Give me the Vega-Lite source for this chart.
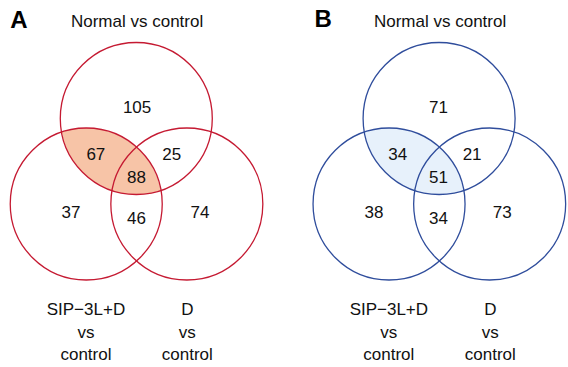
{
  "$schema": "https://vega.github.io/schema/vega-lite/v6.json",
  "width": 568,
  "height": 367,
  "padding": 0,
  "autosize": {"type": "fit", "contains": "padding"},
  "background": "white",
  "config": {"view": {"stroke": null}},
  "datasets": {
    "circles": [
      {"panel": "A", "set": "Normal vs control", "x": 137.5, "y": 118.5},
      {"panel": "A", "set": "SIP-3L+D vs control", "x": 87, "y": 204},
      {"panel": "A", "set": "D vs control", "x": 188.5, "y": 204},
      {"panel": "B", "set": "Normal vs control", "x": 443, "y": 118.5},
      {"panel": "B", "set": "SIP-3L+D vs control", "x": 392.5, "y": 204},
      {"panel": "B", "set": "D vs control", "x": 494, "y": 204}
    ],
    "lenses": [
      {"panel": "A", "x": 112.25, "y": 161.25},
      {"panel": "B", "x": 417.75, "y": 161.25}
    ],
    "counts": [
      {"panel": "A", "n": "105", "x": 138.3, "y": 113.1},
      {"panel": "A", "n": "67", "x": 96.7, "y": 159.8},
      {"panel": "A", "n": "25", "x": 173.3, "y": 159.8},
      {"panel": "A", "n": "88", "x": 137.7, "y": 183.1},
      {"panel": "A", "n": "37", "x": 71.7, "y": 217.5},
      {"panel": "A", "n": "46", "x": 137.7, "y": 224.1},
      {"panel": "A", "n": "74", "x": 201.7, "y": 218.1},
      {"panel": "B", "n": "71", "x": 442.3, "y": 113.1},
      {"panel": "B", "n": "34", "x": 401.3, "y": 159.8},
      {"panel": "B", "n": "21", "x": 476.3, "y": 159.8},
      {"panel": "B", "n": "51", "x": 442.3, "y": 182.8},
      {"panel": "B", "n": "38", "x": 377.3, "y": 217.5},
      {"panel": "B", "n": "34", "x": 442.3, "y": 224.1},
      {"panel": "B", "n": "73", "x": 506.7, "y": 218.1}
    ],
    "labels": [
      {"panel": "A", "label": "Normal vs control", "x": 138.3, "y": 26.7},
      {"panel": "A", "label": "SIP−3L+D\nvs\ncontrol", "x": 86.7, "y": 315},
      {"panel": "A", "label": "D\nvs\ncontrol", "x": 189, "y": 315},
      {"panel": "B", "label": "Normal vs control", "x": 444, "y": 26.7},
      {"panel": "B", "label": "SIP−3L+D\nvs\ncontrol", "x": 392.3, "y": 315},
      {"panel": "B", "label": "D\nvs\ncontrol", "x": 494.7, "y": 315}
    ],
    "letters": [
      {"panel": "A", "x": 19.2, "y": 28.3},
      {"panel": "B", "x": 326, "y": 27}
    ]
  },
  "encoding": {
    "x": {"field": "x", "type": "quantitative", "scale": {"domain": [0, 568], "nice": false, "zero": false}, "axis": null},
    "y": {"field": "y", "type": "quantitative", "scale": {"domain": [0, 367], "nice": false, "zero": false, "reverse": true}, "axis": null}
  },
  "layer": [
    {
      "data": {"name": "lenses"},
      "mark": {
        "type": "point",
        "shape": "M -0.6513 -0.3842 A 1 1 0 0 0 0.6513 0.3842 A 1 1 0 0 0 -0.6513 -0.3842 Z",
        "filled": true,
        "size": 23104,
        "opacity": 1,
        "strokeWidth": 0
      },
      "encoding": {
        "fill": {"field": "panel", "type": "nominal", "scale": {"domain": ["A", "B"], "range": ["#f7c4a7", "#e7f1fb"]}, "legend": null}
      }
    },
    {
      "data": {"name": "circles"},
      "mark": {"type": "point", "shape": "circle", "filled": false, "size": 23104, "strokeWidth": 1.3, "opacity": 1},
      "encoding": {
        "stroke": {"field": "panel", "type": "nominal", "scale": {"domain": ["A", "B"], "range": ["#c51a32", "#2f4d9c"]}, "legend": null}
      }
    },
    {
      "data": {"name": "counts"},
      "mark": {"type": "text", "font": "Liberation Sans", "fontSize": 17, "align": "center", "baseline": "alphabetic", "color": "#111111"},
      "encoding": {"text": {"field": "n"}}
    },
    {
      "data": {"name": "labels"},
      "mark": {"type": "text", "font": "Liberation Sans", "fontSize": 17, "align": "center", "baseline": "alphabetic", "lineBreak": "\n", "lineHeight": 22.5, "color": "#111111"},
      "encoding": {"text": {"field": "label"}}
    },
    {
      "data": {"name": "letters"},
      "mark": {"type": "text", "font": "Liberation Sans", "fontWeight": "bold", "fontSize": 24, "align": "center", "baseline": "alphabetic", "color": "#000000"},
      "encoding": {"text": {"field": "panel"}}
    }
  ]
}
